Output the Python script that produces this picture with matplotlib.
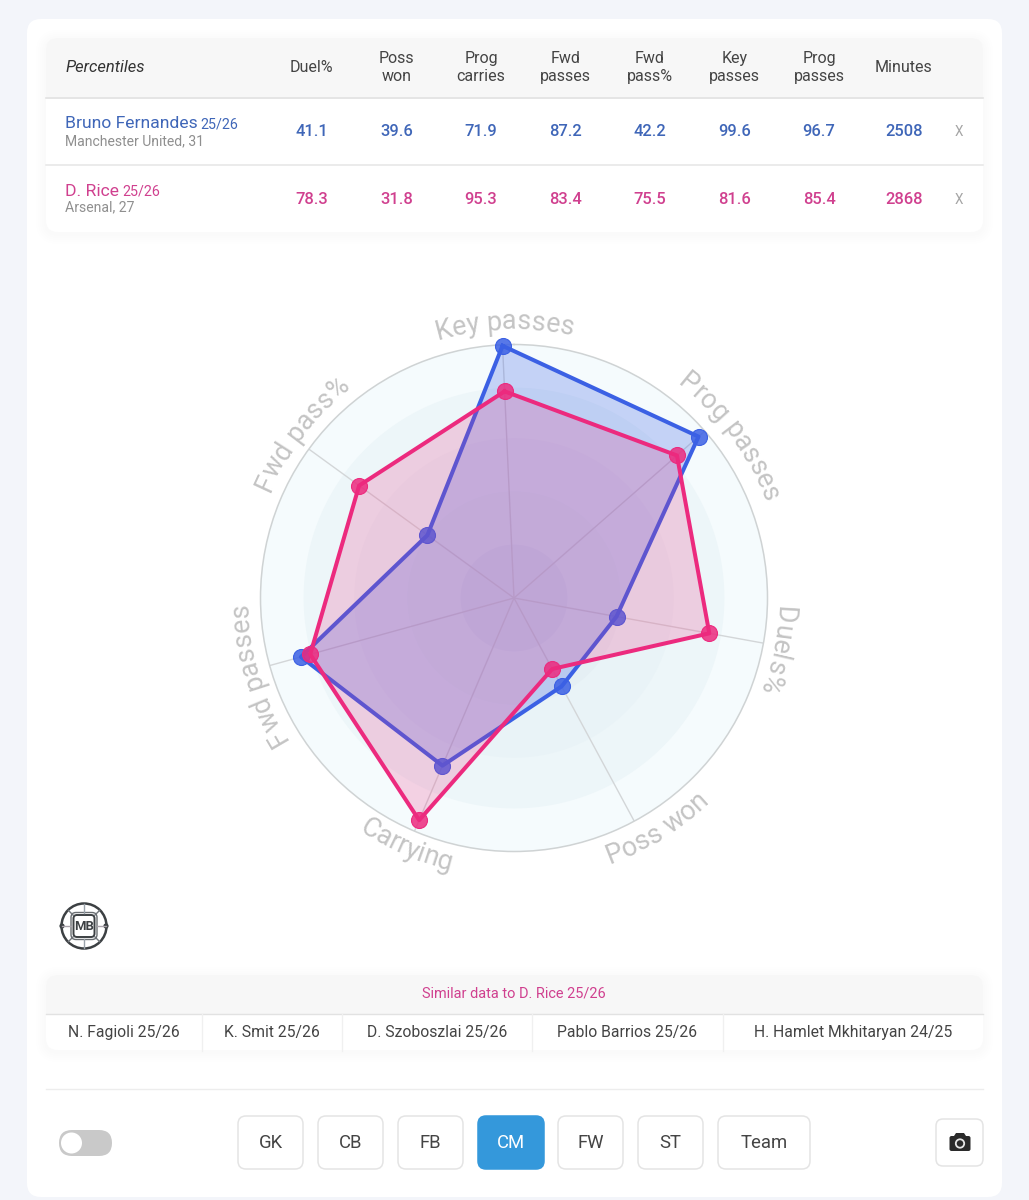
import numpy as np
import matplotlib
matplotlib.use("Agg")
import matplotlib.pyplot as plt
from matplotlib.colors import to_rgba
from matplotlib.patches import FancyBboxPatch, Rectangle, Circle, Polygon
from matplotlib.font_manager import FontProperties

plt.rcParams['font.family'] = ['Roboto', 'DejaVu Sans']

# table data
columns = ["Duel%", "Poss\nwon", "Prog\ncarries", "Fwd\npasses", "Fwd\npass%", "Key\npasses", "Prog\npasses", "Minutes"]
bruno_row = ["41.1", "39.6", "71.9", "87.2", "42.2", "99.6", "96.7", "2508"]
rice_row = ["78.3", "31.8", "95.3", "83.4", "75.5", "81.6", "85.4", "2868"]
column_x = [311.5, 396.5, 481, 565.5, 650, 734.5, 819, 904]

# radar data, clockwise from the top
radar_labels = ["Key passes", "Prog passes", "Duels%", "Poss won", "Carrying", "Fwd passes", "Fwd pass%"]
bruno_radar = [99.6, 96.7, 41.1, 39.6, 71.9, 87.2, 42.2]
rice_radar = [81.6, 85.4, 78.3, 31.8, 95.3, 83.4, 75.5]
ring_levels = [100, 83, 63, 42, 21]
ring_colors = ["#f5fbfd", "#edf6f9", "#e9f3f7", "#e5eff4", "#e0e9f0"]
# the labels do not sit exactly on their spokes
label_shift = [0.6, 4.5, 1.0, -3.5, 0.4, -1.0, 1.8]
label_radius = [106, 106, 103.5, 111.5, 110.5, 105, 105]

similar_players = ["N. Fagioli 25/26", "K. Smit 25/26", "D. Szoboszlai 25/26", "Pablo Barrios 25/26", "H. Hamlet Mkhitaryan 24/25"]
similar_x = [124, 272, 437, 627, 853]
similar_dividers = [202, 342, 532, 723]

buttons = ["GK", "CB", "FB", "CM", "FW", "ST", "Team"]
button_left = [238, 318, 398, 478, 558, 638, 718]
button_width = [65, 65, 65, 66, 65, 65, 92]

BLUE_TEXT = "#3f66b8"
PINK_TEXT = "#d0408f"
BLUE = "#3b60e4"
PINK = "#ec2a7e"


def px(size):
    return size * 0.72


def round_box(ax, x0, y0, x1, y1, rounding, **kw):
    box = FancyBboxPatch((x0, y0), x1 - x0, y1 - y0,
                         boxstyle="round,pad=0,rounding_size=%s" % rounding, **kw)
    ax.add_patch(box)
    return box


def card(ax, x0, y0, x1, y1, rounding=12):
    # soft shadow
    for grow in [10, 8, 6, 4, 2]:
        round_box(ax, x0 - grow, y0 - grow + 2, x1 + grow, y1 + grow + 2, rounding + grow,
                  facecolor="black", edgecolor="none", alpha=0.004)
    round_box(ax, x0, y0, x1, y1, rounding, facecolor="white", edgecolor="none")


def header_band(ax, x0, y0, x1, y1, rounding=12):
    round_box(ax, x0, y0, x1, y0 + 2 * rounding, rounding, facecolor="#f7f7f7", edgecolor="none")
    ax.add_patch(Rectangle((x0, y0 + rounding), x1 - x0, y1 - y0 - rounding, facecolor="#f7f7f7", edgecolor="none"))


def curved_label(ax, fig, label, angle, radius, flip, size):
    # one text per letter, laid out along the circle
    prop = FontProperties(family="Roboto", size=size)
    renderer = fig.canvas.get_renderer()

    def width(s):
        return renderer.get_text_width_height_descent(s, prop, False)[0]

    total = width(label)
    px_radius = radius * 253.5 / 100
    for i, ch in enumerate(label):
        if ch == " ":
            continue
        mid = (width(label[:i]) + width(label[:i + 1])) / 2 - total / 2
        delta = mid / px_radius
        if flip:
            t = angle - delta
            rot = -np.degrees(t) + 180
        else:
            t = angle + delta
            rot = -np.degrees(t)
        ax.text(t, radius, ch, fontproperties=prop, color="#c4c4c4", rotation=rot,
                rotation_mode="anchor", ha="center", va="baseline", clip_on=False)


fig = plt.figure(figsize=(10.29, 12), dpi=100, facecolor="#f3f5fa")
ui = fig.add_axes([0, 0, 1, 1])
ui.set_xlim(0, 1029)
ui.set_ylim(1200, 0)
ui.axis("off")

round_box(ui, 27, 19, 1002, 1197, 14, facecolor="white", edgecolor="none")

# top table
card(ui, 46, 38, 983, 232)
header_band(ui, 46, 38, 983, 97)
ui.plot([46, 983], [97.5, 97.5], color="#dedede", lw=1.1)
ui.plot([46, 983], [165, 165], color="#e6e6e6", lw=1.1)
ui.text(66, 67, "Percentiles", style="italic", fontsize=px(16.5), color="#333333", ha="left", va="center")
for x, name in zip(column_x, columns):
    ui.text(x, 67.5, name, fontsize=px(16), color="#444444", ha="center", va="center", linespacing=1.3)
for x, a, b in zip(column_x, bruno_row, rice_row):
    ui.text(x, 132, a, fontsize=px(16.5), color=BLUE_TEXT, ha="center", va="center", fontweight="medium")
    ui.text(x, 199, b, fontsize=px(16.5), color=PINK_TEXT, ha="center", va="center", fontweight="medium")
ui.text(959, 132.5, "X", fontsize=px(13.5), color="#a5a5a5", ha="center", va="center")
ui.text(959, 199.5, "X", fontsize=px(13.5), color="#a5a5a5", ha="center", va="center")

ui.text(65, 123.5, "Bruno Fernandes", fontsize=px(17.5), color=BLUE_TEXT, ha="left", va="center")
ui.text(200, 124.5, "25/26", fontsize=px(14.3), color=BLUE_TEXT, ha="left", va="center")
ui.text(65, 141, "Manchester United, 31", fontsize=px(14), color="#8f8f8f", ha="left", va="center")
ui.text(65, 191, "D. Rice", fontsize=px(17.5), color=PINK_TEXT, ha="left", va="center")
ui.text(122, 192, "25/26", fontsize=px(14.3), color=PINK_TEXT, ha="left", va="center")
ui.text(65, 207.5, "Arsenal, 27", fontsize=px(14), color="#8f8f8f", ha="left", va="center")

# radar
cx, cy, R = 514, 598, 253.5
radar = fig.add_axes([(cx - R) / 1029, (1200 - cy - R) / 1200, 2 * R / 1029, 2 * R / 1200],
                     projection="polar", facecolor="none")
radar.set_theta_zero_location("N")
radar.set_theta_direction(-1)
radar.set_ylim(0, 100)
radar.set_xticks([])
radar.set_yticks([])
radar.grid(False)
radar.spines["polar"].set_color("#cfd3d4")
radar.spines["polar"].set_linewidth(1.1)

circle_theta = np.linspace(0, 2 * np.pi, 361)
for level, colour in zip(ring_levels, ring_colors):
    radar.fill(circle_theta, np.full(361, level), color=colour, lw=0, zorder=1)

start = np.radians(-2.6)
theta = start + np.arange(len(radar_labels)) * 2 * np.pi / len(radar_labels)
for t in theta:
    radar.plot([t, t], [0, 100], color="#d3d6d8", lw=1, zorder=2)

closed_theta = np.append(theta, theta[0])
for values, colour, alpha in [(bruno_radar, BLUE, 0.26), (rice_radar, PINK, 0.2)]:
    closed = np.append(values, values[0])
    radar.fill(closed_theta, closed, color=colour, alpha=alpha, lw=0, zorder=3)
    radar.plot(closed_theta, closed, color=colour, lw=2.9, zorder=3, clip_on=False)
    radar.plot(theta, values, "o", ms=11.5, mfc=to_rgba(colour, 0.85), mec=colour, mew=0.8,
               zorder=3, clip_on=False)

for label, t, shift, r in zip(radar_labels, theta, label_shift, label_radius):
    deg = np.degrees(t) % 360
    flip = 120 < deg < 240
    curved_label(radar, fig, label, t + np.radians(shift), r, flip, px(27))

# logo
ui.add_patch(Circle((84, 926), 22.5, facecolor="white", edgecolor="#3c4043", lw=1.8))
for a in np.radians([0, 180]):
    ui.plot([84 + 13 * np.cos(a), 84 + 22 * np.cos(a)], [926, 926], color="#a9a3ab", lw=1)
    ui.add_patch(Circle((84 + 22 * np.cos(a), 926), 2.6, facecolor="#3c4043", edgecolor="none"))
for a in np.radians([90, 270]):
    ui.plot([84, 84], [926 + 13 * np.sin(a), 926 + 22 * np.sin(a)], color="#9aa3ab", lw=1)
for a in np.radians([45, 135, 225, 315]):
    ui.plot([84 + 15 * np.cos(a), 84 + 22 * np.cos(a)], [926 + 15 * np.sin(a), 926 + 22 * np.sin(a)], color="#70757a", lw=1)
round_box(ui, 71, 912.5, 97, 939.5, 5, facecolor="white", edgecolor="#6a6e72", lw=1)
round_box(ui, 73.5, 915, 94.5, 937, 3.5, facecolor="white", edgecolor="#3c4043", lw=1.4)
ui.text(84, 926.5, "MB", fontsize=px(13), fontweight="bold", color="#3c4043", ha="center", va="center")

# similar players
card(ui, 46, 975, 983, 1050)
header_band(ui, 46, 975, 983, 1014)
ui.plot([46, 983], [1014, 1014], color="#e2e2e2", lw=1)
ui.text(514, 993, "Similar data to D. Rice 25/26", fontsize=px(14.5), color=PINK_TEXT, ha="center", va="center")
for x, name in zip(similar_x, similar_players):
    ui.text(x, 1033, name, fontsize=px(15.7), color="#444444", ha="center", va="center")
for x in similar_dividers:
    ui.plot([x, x], [1014, 1051], color="#f0f0f0", lw=1)

ui.plot([46, 983], [1088.5, 1088.5], color="#ededed", lw=1)

# toggle
round_box(ui, 59, 1130, 112, 1156, 13, facecolor="#c9c9c9", edgecolor="none")
ui.add_patch(Circle((71.5, 1143), 10.5, facecolor="white", edgecolor="none"))

# position buttons
for name, left, w in zip(buttons, button_left, button_width):
    active = name == "CM"
    round_box(ui, left, 1116, left + w, 1169, 8,
              facecolor="#3498db" if active else "white",
              edgecolor="#3498db" if active else "#e4e4e4", lw=1.1)
    ui.text(left + w / 2, 1142.5, name, fontsize=px(18.5), color="white" if active else "#444444", ha="center", va="center")

# camera button
round_box(ui, 936, 1119, 983, 1166, 7, facecolor="white", edgecolor="#e4e4e4", lw=1.1)
round_box(ui, 949.5, 1136, 970.5, 1151, 2, facecolor="#2b2b2b", edgecolor="none")
ui.add_patch(Polygon([[954, 1136], [956, 1133], [964, 1133], [966, 1136]], facecolor="#2b2b2b", edgecolor="none"))
ui.add_patch(Circle((960, 1143.5), 4.2, facecolor="#2b2b2b", edgecolor="#e8e8e8", lw=1.3))

fig.savefig("out.png", dpi=100, facecolor=fig.get_facecolor())
